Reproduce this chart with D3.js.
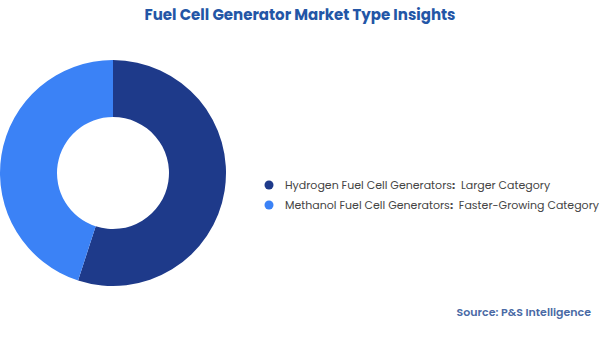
<!DOCTYPE html>
<html><head><meta charset="utf-8">
<script src="https://cdn.jsdelivr.net/npm/d3@7"></script>
<style>body{margin:0;background:#fff}svg{display:block}</style>
</head><body>
<svg id="c" width="600" height="337"></svg>
<script>
const categories = ["Hydrogen Fuel Cell Generators", "Methanol Fuel Cell Generators"];
const descriptors = ["Larger Category", "Faster-Growing Category"];
const values = [55, 45];
const colors = ["#1e3a8a", "#3b82f6"];

const svg = d3.select("#c");
const font = "Poppins, 'Open Sans', sans-serif";

svg.append("text").attr("x", 300).attr("y", 20).attr("text-anchor", "middle")
  .attr("font-family", font).attr("font-weight", 700).attr("font-size", 15)
  .attr("fill", "#2356a6").text("Fuel Cell Generator Market Type Insights");

const pie = d3.pie().sort(null).value(d => d)(values);
const arc = d3.arc().innerRadius(56).outerRadius(113);
const g = svg.append("g").attr("transform", "translate(113,173)");
g.selectAll("path").data(pie).join("path").attr("d", arc).attr("fill", (d, i) => colors[i]);

const leg = svg.append("g");
categories.forEach((c, i) => {
  const y = 185 + i * 20;
  leg.append("circle").attr("cx", 269).attr("cy", y).attr("r", 4.5).attr("fill", colors[i]);
  const t = leg.append("text").attr("x", 285).attr("y", y + 4)
    .attr("font-family", font).attr("font-size", 11).attr("fill", "#444");
  t.append("tspan").text(c);
  t.append("tspan").attr("font-weight", 700).text(":");
  t.append("tspan").text("\u00a0 " + descriptors[i]);
});

svg.append("text").attr("x", 591).attr("y", 316).attr("text-anchor", "end")
  .attr("font-family", font).attr("font-weight", 600).attr("font-size", 11)
  .attr("fill", "#4a6aa5").text("Source: P&S Intelligence");
</script>
</body></html>
